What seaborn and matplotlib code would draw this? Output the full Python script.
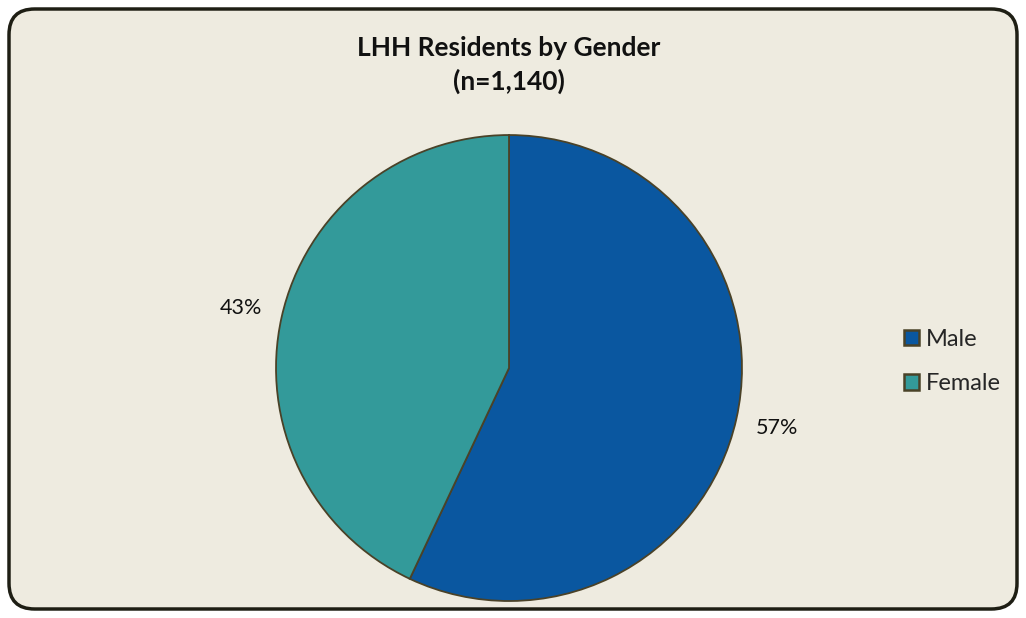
import matplotlib
matplotlib.use("Agg")
import matplotlib.pyplot as plt
import seaborn as sns
from matplotlib.patches import FancyBboxPatch

categories = ["Male", "Female"]
values = [57, 43]
title_lines = ["LHH Residents by Gender", "(n=1,140)"]

sns.set_theme(style="white")
plt.rcParams['font.family'] = ['Lato', 'DejaVu Sans']

bg = "#EEEBE0"
colors = ["#0A57A0", "#339A9A"]
edge = "#4A4228"

fig = plt.figure(figsize=(10.26, 6.18), dpi=100)
fig.patch.set_facecolor("white")

border = FancyBboxPatch((9/1026, 9/618), 1008/1026, 600/618,
                        boxstyle="round,pad=0,rounding_size=0.025",
                        transform=fig.transFigure, facecolor=bg,
                        edgecolor="#1E1E14", linewidth=2.5, zorder=-10,
                        mutation_aspect=1026/618)
fig.patches.append(border)

ax = fig.add_axes([0.269, 0.0275, 0.4542, 0.754])
ax.set_zorder(5)
ax.set_facecolor("none")
wedges, texts, autotexts = ax.pie(values, colors=colors, startangle=90,
                                  counterclock=False, radius=1,
                                  autopct='%.0f%%', pctdistance=1.18,
                                  wedgeprops=dict(edgecolor=edge, linewidth=1.3),
                                  textprops=dict(fontsize=15.5, color="#111111"))
ax.set_xlim(-1.0, 1.0)
ax.set_ylim(-1.0, 1.0)
ax.set_aspect("equal")
ax.axis("off")

fig.text(0.496, 0.922, title_lines[0], ha="center", va="center",
         fontsize=19, fontweight="bold", color="#111111")
fig.text(0.496, 0.869, title_lines[1], ha="center", va="center",
         fontsize=19, fontweight="bold", color="#111111")

leg = fig.legend(wedges, categories, loc="center left",
                 bbox_to_anchor=(0.860, 0.415), frameon=False,
                 fontsize=17, handlelength=0.65, handleheight=0.65,
                 handletextpad=0.3, labelspacing=1.0)
leg.set_zorder(6)
for h in leg.legend_handles:
    h.set_edgecolor(edge)
    h.set_linewidth(1.8)

fig.savefig("out.png", dpi=100, facecolor=fig.get_facecolor())
